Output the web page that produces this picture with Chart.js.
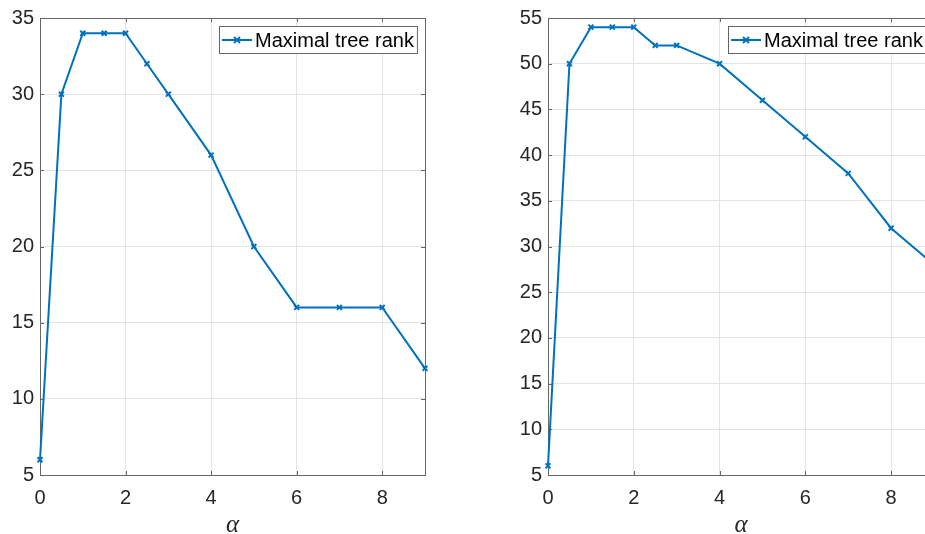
<!DOCTYPE html>
<html>
<head>
<meta charset="utf-8">
<script src="https://cdn.jsdelivr.net/npm/chart.js@4/dist/chart.umd.min.js"></script>
<style>
  html, body { margin: 0; padding: 0; background: #fff; overflow: hidden; width: 925px; height: 534px; }
  canvas { position: absolute; top: 0; }
  #graficoEsq { left: 0; }
  #graficoDir { left: 507px; }
</style>
</head>
<body>
<canvas id="graficoEsq" width="460" height="534"></canvas>
<canvas id="graficoDir" width="462" height="534"></canvas>
<script>
  // dados
  const alphaEsq = [0, 0.5, 1, 1.5, 2, 2.5, 3, 4, 5, 6, 7, 8, 9];
  const rankEsq = [6, 30, 34, 34, 34, 32, 30, 26, 20, 16, 16, 16, 12];
  const alphaDir = [0, 0.5, 1, 1.5, 2, 2.5, 3, 4, 5, 6, 7, 8, 9];
  const rankDir = [6, 50, 54, 54, 54, 52, 52, 50, 46, 42, 38, 32, 28];
  const xTicks = [0, 2, 4, 6, 8];
  const legenda = "Maximal tree rank";
  const tituloX = "α";

  const COR_LINHA = "#0072BD";
  const COR_EIXO = "#666666";
  const COR_GRADE = "#e3e3e3";
  const COR_TEXTO = "#262626";
  const FONTE = "'Liberation Sans', Arial, sans-serif";

  // caixa em volta + ticks para dentro (estilo MATLAB)
  const caixaPlugin = {
    id: "caixa",
    beforeDatasetsDraw(chart) {
      const { ctx, chartArea: a, scales } = chart;
      ctx.save();
      ctx.strokeStyle = COR_EIXO;
      ctx.lineWidth = 1;
      ctx.strokeRect(Math.round(a.left) + 0.5, Math.round(a.top) + 0.5,
        Math.round(a.right - a.left), Math.round(a.bottom - a.top));
      ctx.beginPath();
      scales.x.ticks.forEach(t => {
        const px = Math.round(scales.x.getPixelForValue(t.value)) + 0.5;
        ctx.moveTo(px, a.bottom); ctx.lineTo(px, a.bottom - 4);
        ctx.moveTo(px, a.top); ctx.lineTo(px, a.top + 4);
      });
      scales.y.ticks.forEach(t => {
        const py = Math.round(scales.y.getPixelForValue(t.value)) + 0.5;
        ctx.moveTo(a.left, py); ctx.lineTo(a.left + 4, py);
        ctx.moveTo(a.right, py); ctx.lineTo(a.right - 4, py);
      });
      ctx.stroke();
      ctx.restore();
    }
  };

  // legenda dentro da área, canto superior direito
  const legendaPlugin = {
    id: "legendaCaixa",
    afterDraw(chart) {
      const { ctx, chartArea: a } = chart;
      const ds = chart.data.datasets[0];
      ctx.save();
      ctx.font = "20px " + FONTE;
      const tw = ctx.measureText(ds.label).width;
      const w = 36 + tw + 3, h = 27;
      const x = Math.round(a.right - 8 - w), y = Math.round(a.top + 8);
      ctx.fillStyle = "#fff";
      ctx.fillRect(x, y, w, h);
      ctx.strokeStyle = COR_EIXO;
      ctx.lineWidth = 1;
      ctx.strokeRect(x + 0.5, y + 0.5, w, h);
      const cy = y + h / 2 + 0.5;
      ctx.strokeStyle = COR_LINHA;
      ctx.lineWidth = 2;
      ctx.beginPath();
      ctx.moveTo(x + 3, cy); ctx.lineTo(x + 33, cy);
      ctx.moveTo(x + 18 - 3, cy - 3); ctx.lineTo(x + 18 + 3, cy + 3);
      ctx.moveTo(x + 18 - 3, cy + 3); ctx.lineTo(x + 18 + 3, cy - 3);
      ctx.stroke();
      ctx.fillStyle = "#000";
      ctx.textBaseline = "middle";
      ctx.fillText(ds.label, x + 36, cy + 1);
      ctx.restore();
    }
  };

  function criarGrafico(id, xs, ys, yMax, larguraY) {
    const ctx = document.getElementById(id);
    return new Chart(ctx, {
      type: "scatter",
      data: {
        datasets: [{
          label: legenda,
          data: xs.map((x, i) => ({ x: x, y: ys[i] })),
          showLine: true,
          borderColor: COR_LINHA,
          backgroundColor: COR_LINHA,
          borderWidth: 2,
          pointStyle: "crossRot",
          pointRadius: 3.5,
          pointBorderWidth: 2,
          pointHoverRadius: 3.5,
          clip: false
        }]
      },
      options: {
        responsive: false,
        animation: false,
        events: [],
        layout: { padding: { top: 17, right: 35, left: 0, bottom: 0 } },
        plugins: { legend: { display: false }, tooltip: { enabled: false } },
        scales: {
          x: {
            type: "linear",
            min: 0,
            max: 9,
            border: { display: false },
            grid: { color: COR_GRADE, drawTicks: false },
            afterBuildTicks(s) { s.ticks = xTicks.map(v => ({ value: v })); },
            ticks: { padding: 11, color: COR_TEXTO, maxRotation: 0, font: { family: FONTE, size: 20 } },
            title: {
              display: true, text: tituloX, color: COR_TEXTO, padding: 0,
              font: { family: "'Liberation Serif', serif", style: "italic", size: 25, lineHeight: 0.7 }
            },
            afterFit(s) { s.height = 59; }
          },
          y: {
            min: 5,
            max: yMax,
            border: { display: false },
            grid: { color: COR_GRADE, drawTicks: false },
            ticks: { stepSize: 5, padding: 6, color: COR_TEXTO, font: { family: FONTE, size: 20 } },
            afterFit(s) { s.width = larguraY; }
          }
        }
      },
      plugins: [caixaPlugin, legendaPlugin]
    });
  }

  criarGrafico("graficoEsq", alphaEsq, rankEsq, 35, 40);
  criarGrafico("graficoDir", alphaDir, rankDir, 55, 41);
</script>
</body>
</html>
